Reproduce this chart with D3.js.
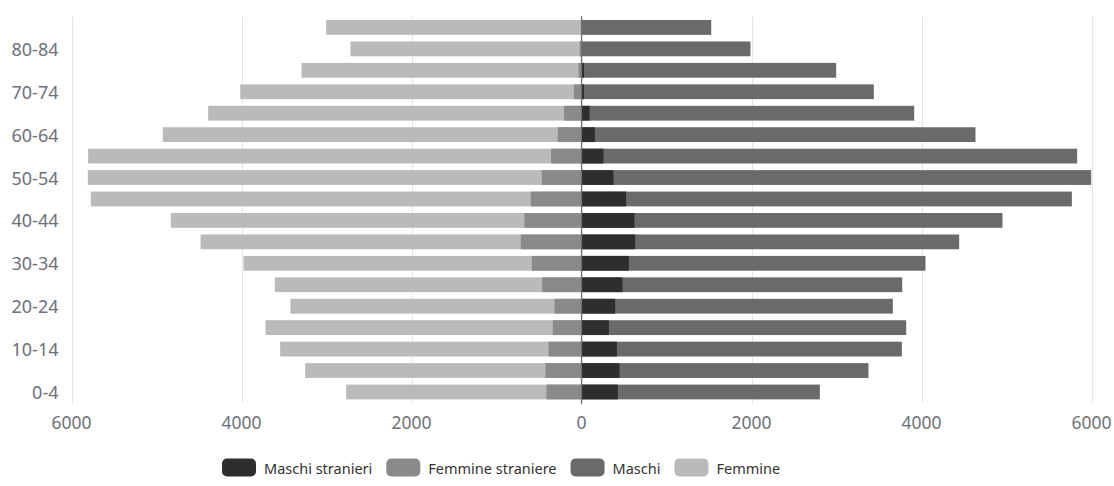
<!DOCTYPE html>
<html>
<head>
<meta charset="utf-8">
<script src="https://cdn.jsdelivr.net/npm/d3@7"></script>
<style>
  html, body { margin: 0; padding: 0; background: #fff; }
  svg { display: block; font-family: "Noto Sans", "Open Sans", sans-serif; }
</style>
</head>
<body>
<svg id="chart" width="1114" height="486"></svg>
<script>
// Age groups, bottom to top
const categories = ["0-4","5-9","10-14","15-19","20-24","25-29","30-34","35-39","40-44","45-49","50-54","55-59","60-64","65-69","70-74","75-79","80-84","85+"];
// Totals (drawn first, from zero)
const maschi   = [2804, 3376, 3769, 3820, 3663, 3773, 4047, 4443, 4953, 5769, 5996, 5831, 4635, 3914, 3439, 2996, 1988, 1526];
const femmine  = [2769, 3251, 3545, 3718, 3424, 3608, 3976, 4482, 4831, 5773, 5808, 5804, 4926, 4392, 4015, 3294, 2718, 3004];
// Foreign residents (drawn on top, from zero)
const maschiStranieri  = [427, 447, 416, 322, 396, 482, 557, 631, 623, 525, 376, 259, 157, 94, 30, 30, 5, 0];
const femmineStraniere = [412, 424, 388, 337, 318, 463, 584, 714, 671, 596, 467, 358, 279, 205, 90, 35, 20, 0];
const xTicks = [-6000, -4000, -2000, 0, 2000, 4000, 6000];
const shownLabels = ["0-4","10-14","20-24","30-34","40-44","50-54","60-64","70-74","80-84"];

const series = [
  { name: "Maschi stranieri",  color: "#2e2e2e" },
  { name: "Femmine straniere", color: "#8a8a8a" },
  { name: "Maschi",            color: "#6a6a6a" },
  { name: "Femmine",           color: "#bababa" }
];
const colorOf = Object.fromEntries(series.map(s => [s.name, s.color]));

const svg = d3.select("#chart");
const mLeft = 71.5, mRight = 1091.5, mTop = 16.7, mBottom = 402.7;

const x = d3.scaleLinear().domain([-6000, 6000]).range([mLeft, mRight]);
const y = d3.scaleBand().domain(categories.slice().reverse()).range([mTop, mBottom]).padding(0);
const barH = y.bandwidth() * 0.69;
const barY = c => y(c) + (y.bandwidth() - barH) / 2;

// grid lines
svg.append("g").selectAll("line").data(xTicks).join("line")
  .attr("x1", d => Math.round(x(d)) + 0.5).attr("x2", d => Math.round(x(d)) + 0.5)
  .attr("y1", mTop).attr("y2", mBottom)
  .attr("stroke", "#e0e6f1").attr("stroke-width", 1);

// x tick labels
svg.append("g").selectAll("text").data(xTicks).join("text")
  .attr("x", d => x(d)).attr("y", 422)
  .attr("text-anchor", "middle").attr("dominant-baseline", "central")
  .attr("fill", "#6e7079").attr("font-size", 17.5)
  .text(d => Math.abs(d));

// bars
const layers = [
  { key: "Femmine", vals: femmine, sign: -1 },
  { key: "Maschi", vals: maschi, sign: 1 },
  { key: "Femmine straniere", vals: femmineStraniere, sign: -1 },
  { key: "Maschi stranieri", vals: maschiStranieri, sign: 1 }
];
layers.forEach(L => {
  svg.append("g").selectAll("rect").data(categories.map((c, i) => ({ c, v: L.vals[i] }))).join("rect")
    .attr("x", d => L.sign < 0 ? x(-d.v) : x(0))
    .attr("width", d => Math.abs(x(d.v) - x(0)))
    .attr("y", d => barY(d.c))
    .attr("height", barH)
    .attr("fill", colorOf[L.key]);
});

// zero (category) axis line
svg.append("line")
  .attr("x1", x(0)).attr("x2", x(0))
  .attr("y1", mTop - 0.5).attr("y2", mBottom + 1.5)
  .attr("stroke", "#6e7079").attr("stroke-width", 1.2);

// y labels
svg.append("g").selectAll("text").data(shownLabels).join("text")
  .attr("x", 58.5).attr("y", d => y(d) + y.bandwidth() / 2)
  .attr("text-anchor", "end").attr("dominant-baseline", "central")
  .attr("fill", "#6e7079").attr("font-size", 18)
  .text(d => d);

// legend
const lg = svg.append("g");
let cx = 222;
const legY = 467.5, iconW = 34, iconH = 18;
series.forEach(s => {
  lg.append("rect").attr("x", cx).attr("y", legY - iconH / 2).attr("width", iconW).attr("height", iconH)
    .attr("rx", 5).attr("fill", s.color);
  const t = lg.append("text").attr("x", cx + iconW + 8).attr("y", legY)
    .attr("dominant-baseline", "central").attr("fill", "#333").attr("font-size", 14.5)
    .text(s.name);
  cx += iconW + 8 + t.node().getComputedTextLength() + 14;
});
</script>
</body>
</html>
